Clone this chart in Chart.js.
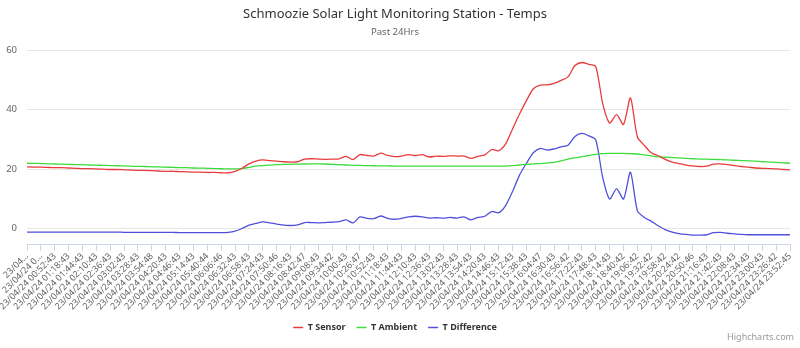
<!DOCTYPE html>
<html>
<head>
<meta charset="utf-8">
<script src="https://cdn.jsdelivr.net/npm/chart.js@4/dist/chart.umd.min.js"></script>
<style>
  html, body { margin: 0; padding: 0; background: #fff; }
  #wrap { position: relative; width: 800px; height: 348px; }
  #credits { position: absolute; right: 6px; bottom: 5px; font: 9px "Noto Sans", sans-serif; color: #999; }
</style>
</head>
<body>
<div id="wrap">
  <canvas id="myChart" width="800" height="348"></canvas>
  <div id="credits">Highcharts.com</div>
</div>
<script>
// tick labels shown on the x axis (one every 26 minutes)
var tickLabels = [
  '23/04…', '23/04/24 0…', '23/04/24 00:52:43', '23/04/24 01:18:43', '23/04/24 01:44:43',
  '23/04/24 02:10:43', '23/04/24 02:36:43', '23/04/24 03:02:43', '23/04/24 03:28:43', '23/04/24 03:54:48',
  '23/04/24 04:20:43', '23/04/24 04:46:43', '23/04/24 05:14:43', '23/04/24 05:40:44', '23/04/24 06:06:46',
  '23/04/24 06:32:43', '23/04/24 06:58:43', '23/04/24 07:24:43', '23/04/24 07:50:46', '23/04/24 08:16:43',
  '23/04/24 08:42:47', '23/04/24 09:08:43', '23/04/24 09:34:42', '23/04/24 10:00:43', '23/04/24 10:26:47',
  '23/04/24 10:52:43', '23/04/24 11:18:43', '23/04/24 11:44:43', '23/04/24 12:10:43', '23/04/24 12:36:43',
  '23/04/24 13:02:43', '23/04/24 13:28:43', '23/04/24 13:54:43', '23/04/24 14:20:43', '23/04/24 14:46:43',
  '23/04/24 15:12:43', '23/04/24 15:38:43', '23/04/24 16:04:47', '23/04/24 16:30:43', '23/04/24 16:56:42',
  '23/04/24 17:22:43', '23/04/24 17:48:43', '23/04/24 18:14:43', '23/04/24 18:40:42', '23/04/24 19:06:42',
  '23/04/24 19:32:42', '23/04/24 19:58:42', '23/04/24 20:24:42', '23/04/24 20:50:46', '23/04/24 21:16:43',
  '23/04/24 21:42:43', '23/04/24 22:08:43', '23/04/24 22:34:43', '23/04/24 23:00:43', '23/04/24 23:26:42',
  '23/04/24 23:52:45'
];

// readings every ~13 minutes (two per tick label)
var tSensor = [
  20.8, 20.7, 20.7, 20.6, 20.5, 20.5, 20.4, 20.3, 20.2, 20.2,
  20.1, 20.0, 19.9, 19.9, 19.8, 19.7, 19.6, 19.6, 19.5, 19.4,
  19.3, 19.3, 19.2, 19.1, 19.0, 19.0, 18.9, 18.9, 18.8, 18.8,
  19.3, 20.3, 21.8, 22.7, 23.1, 22.9, 22.7, 22.5, 22.4, 22.5,
  23.4, 23.5, 23.4, 23.3, 23.4, 23.5, 24.3, 23.2, 24.9, 24.6,
  24.4, 25.4, 24.6, 24.2, 24.4, 24.9, 24.6, 24.9, 24.1, 24.4,
  24.3, 24.5, 24.4, 24.4, 23.6, 24.3, 24.8, 26.6, 26.2, 28.5,
  33.5, 38.5, 43.0, 47.0, 48.2, 48.3, 48.8, 49.8, 51.0, 54.8,
  55.8, 55.2, 54.4, 42.0, 35.5, 38.3, 35.0, 43.9, 30.8, 28.0,
  25.5, 24.5, 23.3, 22.4, 21.9, 21.4, 21.1, 20.9, 21.0, 21.7,
  21.8, 21.5, 21.2, 20.9, 20.7, 20.4, 20.3, 20.2, 20.1, 19.9,
  19.8
];
var tAmbient = [
  22.0, 21.95, 21.9, 21.8, 21.75, 21.7, 21.6, 21.55, 21.5, 21.4,
  21.35, 21.3, 21.2, 21.15, 21.1, 21.0, 20.95, 20.9, 20.8, 20.75,
  20.7, 20.6, 20.55, 20.5, 20.4, 20.35, 20.3, 20.2, 20.15, 20.1,
  20.1, 20.2, 20.6, 21.0, 21.2, 21.35, 21.5, 21.6, 21.65, 21.7,
  21.75, 21.8, 21.8, 21.75, 21.6, 21.5, 21.4, 21.3, 21.25, 21.2,
  21.15, 21.1, 21.1, 21.05, 21.0, 21.0, 21.0, 21.0, 21.0, 21.0,
  21.0, 21.0, 21.0, 21.0, 21.0, 21.0, 21.0, 21.0, 21.0, 21.05,
  21.2, 21.4, 21.6, 21.8, 21.9, 22.1, 22.3, 22.8, 23.4, 23.8,
  24.2, 24.6, 25.0, 25.2, 25.3, 25.3, 25.3, 25.2, 25.1, 24.8,
  24.5, 24.1, 24.0, 23.9, 23.8, 23.6, 23.5, 23.4, 23.35, 23.3,
  23.2, 23.1, 23.0, 22.9, 22.8, 22.7, 22.5, 22.4, 22.3, 22.15,
  22.0
];
var tDifference = [
  -1.1, -1.1, -1.1, -1.1, -1.1, -1.1, -1.1, -1.1, -1.1, -1.1,
  -1.1, -1.1, -1.1, -1.1, -1.2, -1.2, -1.2, -1.2, -1.2, -1.2,
  -1.2, -1.2, -1.3, -1.3, -1.3, -1.3, -1.3, -1.3, -1.3, -1.2,
  -0.8, 0.1, 1.2, 1.8, 2.3, 2.0, 1.6, 1.2, 1.1, 1.3,
  2.1, 2.1, 2.0, 2.1, 2.2, 2.4, 3.0, 2.0, 4.0, 3.5,
  3.4, 4.3, 3.5, 3.2, 3.5, 4.0, 4.2, 4.0, 3.6, 3.7,
  3.6, 3.8, 3.6, 4.0, 3.0, 3.8, 4.2, 5.8, 5.4, 7.8,
  12.5, 18.0, 22.0, 25.5, 27.0, 26.4, 26.8, 27.5, 28.0, 31.0,
  32.0, 31.2, 29.8, 17.2, 10.0, 13.4, 10.0, 19.0, 6.0, 3.8,
  2.5, 1.0, -0.3, -1.1, -1.6, -1.9, -2.1, -2.1, -2.0, -1.3,
  -1.2, -1.5, -1.7, -1.9, -2.0, -2.0, -2.0, -2.0, -2.0, -2.0,
  -2.0
];
var yTicks = [0, 20, 40, 60];
var seriesColors = ['rgb(232, 60, 60)', 'rgb(60, 220, 60)', 'rgb(80, 80, 220)'];

// category per reading, only every second one carries a shown label
var categories = [];
for (var i = 0; i < tSensor.length; i++) {
  categories.push(i % 2 == 0 ? tickLabels[i / 2] : '');
}

var font = '"Noto Sans", sans-serif';

var ctx = document.getElementById('myChart').getContext('2d');
var chart = new Chart(ctx, {
  type: 'line',
  data: {
    labels: categories,
    datasets: [{
      label: 'T Sensor',
      data: tSensor,
      borderColor: seriesColors[0],
      backgroundColor: seriesColors[0]
    }, {
      label: 'T Ambient',
      data: tAmbient,
      borderColor: seriesColors[1],
      backgroundColor: seriesColors[1]
    }, {
      label: 'T Difference',
      data: tDifference,
      borderColor: seriesColors[2],
      backgroundColor: seriesColors[2]
    }]
  },
  options: {
    responsive: false,
    animation: false,
    layout: { padding: { left: 0, right: 10, top: 4, bottom: 6 } },
    elements: {
      point: { radius: 0 },
      line: { borderWidth: 1.3, tension: 0.25 }
    },
    plugins: {
      title: {
        display: true,
        text: 'Schmoozie Solar Light Monitoring Station - Temps',
        color: '#333',
        font: { family: font, size: 13, weight: 'normal' },
        padding: { top: 2, bottom: 5 }
      },
      subtitle: {
        display: true,
        text: 'Past 24Hrs',
        color: '#666',
        font: { family: font, size: 9.5, weight: 'normal' },
        padding: { bottom: 12 }
      },
      legend: {
        position: 'bottom',
        labels: {
          usePointStyle: true,
          pointStyleWidth: 10,
          color: '#333',
          padding: 11,
          font: { family: font, size: 9, weight: 'bold' },
          generateLabels: function(chart) {
            return chart.data.datasets.map(function(ds, i) {
              return {
                text: ds.label,
                datasetIndex: i,
                pointStyle: 'line',
                strokeStyle: seriesColors[i],
                fillStyle: seriesColors[i],
                lineWidth: 1.5,
                fontColor: '#333',
                hidden: false
              };
            });
          }
        }
      },
      tooltip: { enabled: false }
    },
    scales: {
      x: {
        offset: false,
        border: { color: '#ccd6eb' },
        grid: { drawOnChartArea: false, drawTicks: true, tickLength: 6, color: '#ccd6eb' },
        ticks: {
          autoSkip: false,
          maxRotation: 45,
          minRotation: 45,
          color: '#666',
          font: { family: font, size: 9 },
          padding: 0,
          callback: function(v, i) {
            return i % 2 == 0 ? this.getLabelForValue(v) : null;
          }
        },
        afterFit: function(axis) {
          // rotated labels may hang past the plot edges, like the original
          axis.paddingLeft = 0;
          axis.paddingRight = 0;
        }
      },
      y: {
        min: -5.4,
        max: 60,
        afterBuildTicks: function(axis) {
          axis.ticks = yTicks.map(function(v) { return { value: v }; });
        },
        afterFit: function(axis) {
          axis.width = 27;
        },
        border: { display: false },
        grid: { color: '#e6e6e6', drawTicks: false },
        ticks: {
          color: '#666',
          padding: 10,
          font: { family: font, size: 9.5 }
        }
      }
    }
  }
});
</script>
</body>
</html>
